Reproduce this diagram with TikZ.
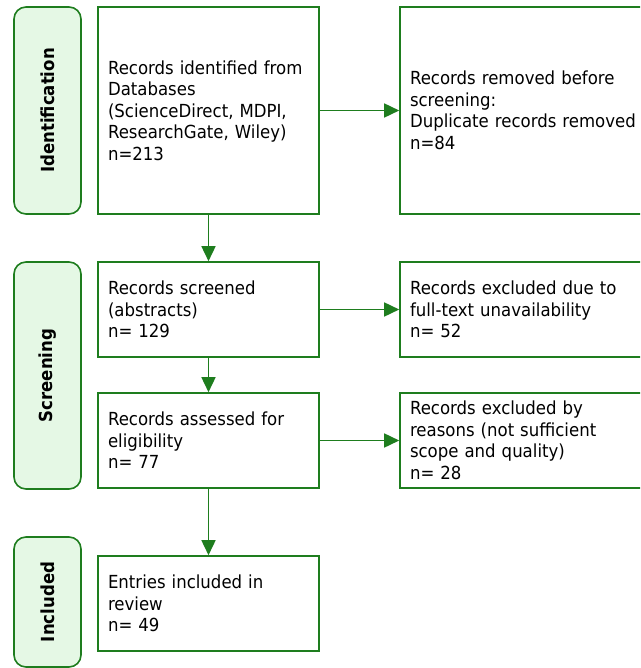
\documentclass[tikz,border=0pt]{standalone}
\usepackage{fontspec}
\setmainfont{DejaVu Sans}[FakeStretch=0.92]
\usetikzlibrary{arrows.meta}
\definecolor{prgreen}{RGB}{30,125,30}
\definecolor{prfill}{RGB}{229,248,229}

\begin{document}
\begin{tikzpicture}[x=1pt, y=-1pt,
  box/.style = {draw=prgreen, line width=1.6pt, rectangle, align=left,
    inner xsep=10pt, inner ysep=0pt, font=\fontsize{18}{21.5}\selectfont},
  leftbox/.style = {box, text width=201pt},
  rightbox/.style = {box, text width=230pt},
  stage/.style = {draw=prgreen, fill=prfill, line width=1.6pt, rounded corners=12pt,
    rotate=90, minimum height=67pt, font=\bfseries\fontsize{18}{21}\selectfont},
  flow/.style = {draw=prgreen, line width=1.6pt, -{Triangle[length=15pt,width=14pt]}}]
  \clip (0,0) rectangle (640,668);

  % stages
  \node[stage, minimum width=207pt] (sident) at (47.5,110.5) {Identification};
  \node[stage, minimum width=227pt] (sscreen) at (47.5,375.5) {Screening};
  \node[stage, minimum width=130pt] (sincl) at (47.5,602) {Included};

  % boxes
  \node[leftbox, minimum height=207pt] (ident) at (208.5,110.5)
    {Records identified from\\Databases\\(ScienceDirect, MDPI,\\ResearchGate, Wiley)\\n=213};
  \node[rightbox, minimum height=207pt] (removed) at (525,110.5)
    {Records removed before\\screening:\\Duplicate records removed\\n=84};
  \node[leftbox, minimum height=95pt] (screened) at (208.5,309.5)
    {Records screened\\(abstracts)\\n= 129};
  \node[rightbox, minimum height=95pt] (fulltext) at (525,309.5)
    {Records excluded due to\\full-text unavailability\\n= 52};
  \node[leftbox, minimum height=95pt] (assessed) at (208.5,440.5)
    {Records assessed for\\eligibility\\n= 77};
  \node[rightbox, minimum height=95pt] (reasons) at (525,440.5)
    {Records excluded by\\reasons (not sufficient\\scope and quality)\\n= 28};
  \node[leftbox, minimum height=95pt] (included) at (208.5,603.5)
    {Entries included in\\review\\n= 49};

  % arrows
  \draw[flow] (ident) -- (removed);
  \draw[flow] (ident) -- (screened);
  \draw[flow] (screened) -- (fulltext);
  \draw[flow] (screened) -- (assessed);
  \draw[flow] (assessed) -- (reasons);
  \draw[flow] (assessed) -- (included);
\end{tikzpicture}
\end{document}
